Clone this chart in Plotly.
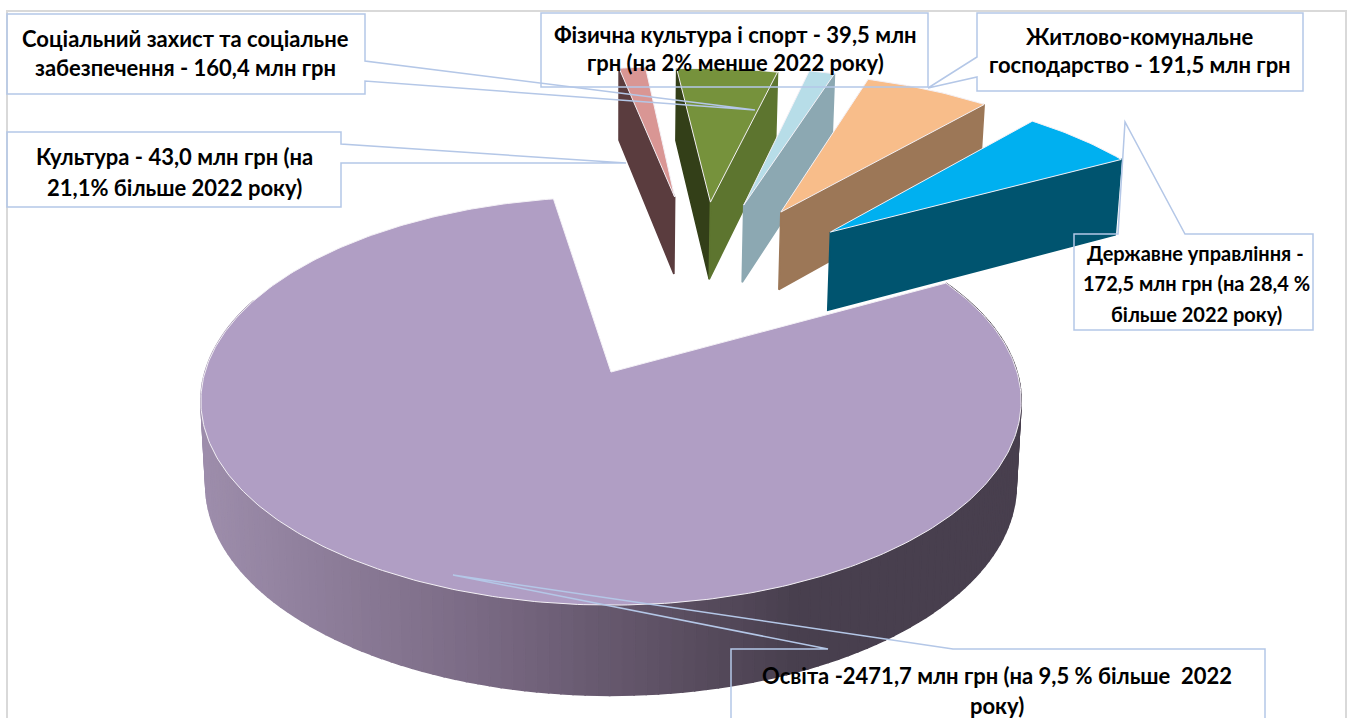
import math
import plotly.graph_objects as go

# ---- data ----
categories = ["Культура", "Соціальний захист та соціальне забезпечення",
              "Фізична культура і спорт", "Житлово-комунальне господарство",
              "Державне управління", "Освіта"]
values = [43.0, 160.4, 39.5, 191.5, 172.5, 2471.7]

# ---- styles / layout (not data) ----
top_colors = ["#d99694", "#76923c", "#b7dde8", "#f8bd8a", "#00b0f0", "#b09ec4"]
left_wall = ["#5a3c3e", "#333f18", None, None, None, None]
right_wall = [None, "#5d752f", "#8ca8b2", "#9c7757", "#00546f", None]
explode_x = [0.179, 0.2785, 0.371, 0.472, 0.60, 0.0]
explode_y = [0.999, 0.966, 0.947, 0.902, 0.777, 0.0]
radius = [0.95, 0.97, 1.0, 1.0, 1.0, 1.0]
START = 350.7 - 360
CX, CY, F, A, K, H, K2, SHRINK = 611, 372, 406, 200, 0.142, 83, 0.08, 0.012
FONT = "Lato"
BOX = "#b4c7e7"


def project(X, Y, bottom=False):
    w = 1 + K * Y
    sx = CX + F * X / w
    sy = CY - A * Y / w
    if bottom:
        sx = CX + (sx - CX) * (1 - SHRINK)
        sy += H / (1 + K2 * Y)
    return sx, sy


def disc(theta, ex=0.0, ey=0.0, r=1.0):
    t = math.radians(theta)
    return ex + r * math.sin(t), ey + r * math.cos(t)


def poly(fig, pts, color, line=None, lw=1):
    xs = [p[0] for p in pts] + [pts[0][0]]
    ys = [p[1] for p in pts] + [pts[0][1]]
    fig.add_trace(go.Scatter(
        x=xs, y=ys, mode="lines", fill="toself", fillcolor=color,
        line=dict(color=line or color, width=lw if line else 1.6),
        hoverinfo="skip", showlegend=False))


def mix(stops, x):
    for (x0, c0), (x1, c1) in zip(stops, stops[1:]):
        if x <= x1:
            f = max(0, (x - x0) / (x1 - x0))
            return "rgb(%d,%d,%d)" % tuple(c0[i] + (c1[i] - c0[i]) * f for i in range(3))
    return "rgb(%d,%d,%d)" % tuple(stops[-1][1])


total = sum(values)
sweeps = [v / total * 360 for v in values]
bounds = [START]
for s in sweeps:
    bounds.append(bounds[-1] + s)

fig = go.Figure()

# side wall of the large slice
t0, t1 = bounds[5], bounds[6]
stops = [(200, (158, 142, 172)), (480, (122, 106, 132)),
         (700, (88, 76, 94)), (800, (72, 63, 78)), (1030, (72, 63, 78))]
step = 1.5
t = max(t0, 60.0)
end = min(t1, 292.0)
while t < end:
    a, b = t, min(t + step, end)
    p1 = project(*disc(a))
    p2 = project(*disc(b))
    p3 = project(*disc(b), bottom=True)
    p4 = project(*disc(a), bottom=True)
    poly(fig, [p1, p2, p3, p4], mix(stops, (p1[0] + p2[0]) / 2))
    t = b


def wedge(i):
    n = max(2, int(sweeps[i] / 0.75))
    ex, ey, r = explode_x[i], explode_y[i], radius[i]
    a, b = bounds[i], bounds[i + 1]
    apex = project(ex, ey)
    apex_b = project(ex, ey, bottom=True)
    sa, sb = project(*disc(a, ex, ey, r)), project(*disc(b, ex, ey, r))
    sab, sbb = project(*disc(a, ex, ey, r), bottom=True), project(*disc(b, ex, ey, r), bottom=True)
    if left_wall[i]:
        poly(fig, [apex, sa, sab, apex_b], left_wall[i])
    if right_wall[i]:
        poly(fig, [apex, sb, sbb, apex_b], right_wall[i])
    arc = [project(*disc(a + (b - a) * j / n, ex, ey, r)) for j in range(n + 1)]
    poly(fig, [apex] + arc, top_colors[i], line="#f4f1f6", lw=1)


wedge(5)
for i in range(5):
    wedge(i)


def path(pts):
    return "M " + " L ".join(f"{x} {y}" for x, y in pts) + " Z"


boxes = [
    [(7, 14), (365, 14), (365, 61), (755, 110), (365, 81), (365, 94), (7, 94)],
    [(7, 132), (341, 132), (341, 144), (626, 163), (341, 163), (341, 207), (7, 207)],
    [(541, 13), (928, 13), (928, 87), (541, 87)],
    [(977, 13), (1303, 13), (1303, 91), (977, 91), (977, 77), (928, 88), (977, 57)],
    [(1074, 234), (1118, 234), (1125, 122), (1185, 234), (1313, 234), (1313, 330), (1074, 330)],
    [(731, 649), (828, 649), (453, 575), (953, 649), (1265, 649), (1265, 730), (731, 730)],
]
shapes = [dict(type="rect", xref="x", yref="y", x0=7, y0=11, x1=1346, y1=730,
               line=dict(color="#d9d9d9", width=2), layer="below")]
for b in boxes:
    shapes.append(dict(type="path", xref="x", yref="y", path=path(b),
                       line=dict(color=BOX, width=1.5), layer="above"))

labels = [
    ("Соціальний захист та соціальне", 185, 38, 22),
    ("забезпечення - 160,4 млн грн", 185, 67, 22),
    ("Культура - 43,0 млн грн (на", 174, 156, 22),
    ("21,1% більше 2022 року)", 174, 187, 22),
    ("Фізична культура і спорт - 39,5 млн", 735, 34, 22),
    ("грн (на 2% менше 2022 року)", 735, 62, 22),
    ("Житлово-комунальне", 1140, 36, 22),
    ("господарство - 191,5 млн грн", 1140, 64, 22),
    ("Державне управління -", 1195, 253, 20),
    ("172,5 млн грн (на 28,4 %", 1196, 283, 20),
    ("більше 2022 року)", 1196, 314, 20),
    ("Освіта -2471,7 млн грн (на 9,5 % більше  2022", 997, 675, 22),
    ("року)", 997, 705, 22),
]
ann = [dict(x=x, y=y, text=t, showarrow=False, xref="x", yref="y",
            xanchor="center", yanchor="middle",
            font=dict(family=FONT, size=s, color="#000000", weight="bold"))
       for t, x, y, s in labels]

fig.update_layout(
    width=1351, height=718, margin=dict(l=0, r=0, t=0, b=0),
    paper_bgcolor="white", plot_bgcolor="white", showlegend=False,
    xaxis=dict(range=[0, 1351], visible=False, fixedrange=True),
    yaxis=dict(range=[718, 0], visible=False, fixedrange=True),
    shapes=shapes, annotations=ann)

fig.write_html("out.html", config=dict(displayModeBar=False),
               post_script="document.body.style.margin='0';document.documentElement.style.overflow='hidden';")
